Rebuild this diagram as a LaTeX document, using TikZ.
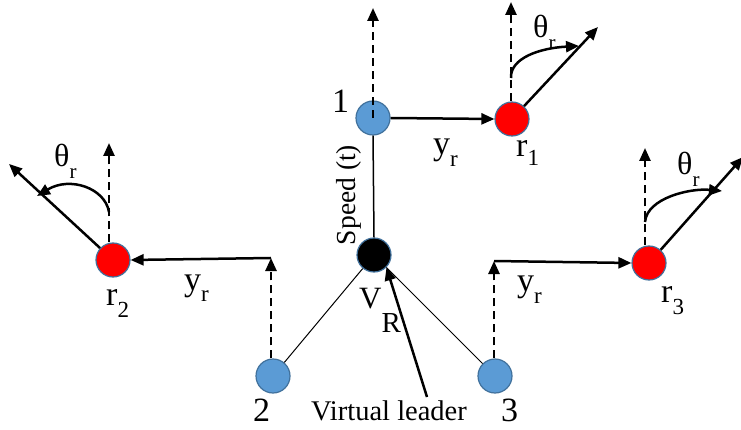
\documentclass[tikz,border=0pt]{standalone}
\usepackage{fontspec}
\setmainfont{Liberation Serif}
\usetikzlibrary{arrows.meta}
\definecolor{agentblue}{RGB}{91,155,213}
\definecolor{rimblue}{RGB}{65,113,156}
\definecolor{robotred}{RGB}{255,0,0}
% subscript set lower than usual: \lowsub{depth}{size}{text}
\newcommand\lowsub[3]{\raisebox{-#1}{\fontsize{#2}{#2}\selectfont #3}}
\begin{document}
\begin{tikzpicture}[x=1pt,y=-1pt,
  agent/.style={circle,draw=rimblue,line width=1.2pt,fill=agentblue,minimum size=34pt,inner sep=0pt},
  robot/.style={agent,fill=robotred},
  leader/.style={agent,fill=black},
  link/.style={line width=2.5pt,-{Triangle[length=13pt,width=11pt]}},
  guide/.style={link,dash pattern=on 8pt off 5pt},
  tie/.style={line width=1pt},
  lbl/.style={font=\fontsize{34}{34}\selectfont,inner sep=0pt,anchor=base west},
  angle/.style={lbl,font=\fontsize{32}{32}\selectfont}]
\useasboundingbox (0,0) rectangle (741,430);

% formation members and virtual leader
\node[agent]  (n1) at (373,118) {};
\node[agent]  (n2) at (273,376) {};
\node[agent]  (n3) at (495,376) {};
\node[leader] (vr) at (374,255) {};
\node[robot]  (r1) at (512,119) {};
\node[robot]  (r2) at (113,260) {};
\node[robot]  (r3) at (649,263) {};

% guide tips and heading tips
\coordinate (g1) at (373,8);
\coordinate (gr1) at (511,2);
\coordinate (gr2) at (109,143);
\coordinate (gr3) at (645,148);
\coordinate (g2) at (271,258);
\coordinate (g3) at (494,261);
\coordinate (h1) at (598,27);
\coordinate (h2) at (9,164);
\coordinate (h3) at (743,157);

% structure lines
\draw[line width=1.5pt] (n1.south) -- (vr.north);
\draw[tie] (vr) -- (n2);
\draw[tie] (vr) -- (n3);

% dashed reference directions
\draw[guide] (n1.center) -- (g1);
\draw[guide] (gr1 |- r1.north) -- (gr1);
\draw[guide] (gr2 |- r2.north) -- (gr2);
\draw[guide] (gr3 |- r3.north) -- (gr3);
\draw[guide] (g2 |- n2.north) -- (g2);
\draw[guide] (g3 |- n3.north) -- (g3);

% offsets y_r
\draw[link] (n1.east) -- (r1.west);
\draw[link] (g2) -- (r2.east);
\draw[link] (g3) -- (r3.west);

% headings
\draw[link] (r1) -- (h1);
\draw[link] (r2) -- (h2);
\draw[link] (r3) -- (h3);

% heading angles theta_r
\draw[link] (511,78) .. controls (510,58) and (540,48) .. (579,46);
\draw[link] (109,212) .. controls (105,188) and (70,176) .. (37,196);
\draw[link] (645,222) .. controls (647,198) and (690,188) .. (722,191);

% labels
\node[lbl] (l1) at (332,113) {1};
\node[lbl] (l2) at (253,421) {2};
\node[lbl] (l3) at (501,421) {3};
\node[lbl] (yr1) at (433,155) {y\lowsub{12pt}{23}{r}};
\node[lbl] (yr2) at (184,290) {y\lowsub{12pt}{23}{r}};
\node[lbl] (yr3) at (517,291) {y\lowsub{12pt}{23}{r}};
\node[lbl] (rl1) at (516,157) {r\lowsub{9pt}{23}{1}};
\node[lbl] (rl2) at (106,305) {r\lowsub{12pt}{23}{2}};
\node[lbl] (rl3) at (661,302) {r\lowsub{12pt}{23}{3}};
\node[angle] (t1) at (533,38) {θ\lowsub{12pt}{21}{r}};
\node[angle] (t2) at (54,167) {θ\lowsub{12pt}{21}{r}};
\node[angle] (t3) at (677,175) {θ\lowsub{12pt}{21}{r}};
\node[lbl,font=\fontsize{31}{31}\selectfont] (vl) at (359,308) {V\lowsub{24pt}{29}{R}};
\node[inner sep=0pt,rotate=90,anchor=base,font=\fontsize{27.5}{27.5}\selectfont] (sp) at (355,195) {Speed (t)};
\node[inner sep=0pt,anchor=base,font=\fontsize{28.5}{28.5}\selectfont] (vtext) at (389,420) {Virtual leader};
\coordinate (vtail) at (427,397);
\draw[link] (vtail) -- (vr.south east);
\end{tikzpicture}
\end{document}
